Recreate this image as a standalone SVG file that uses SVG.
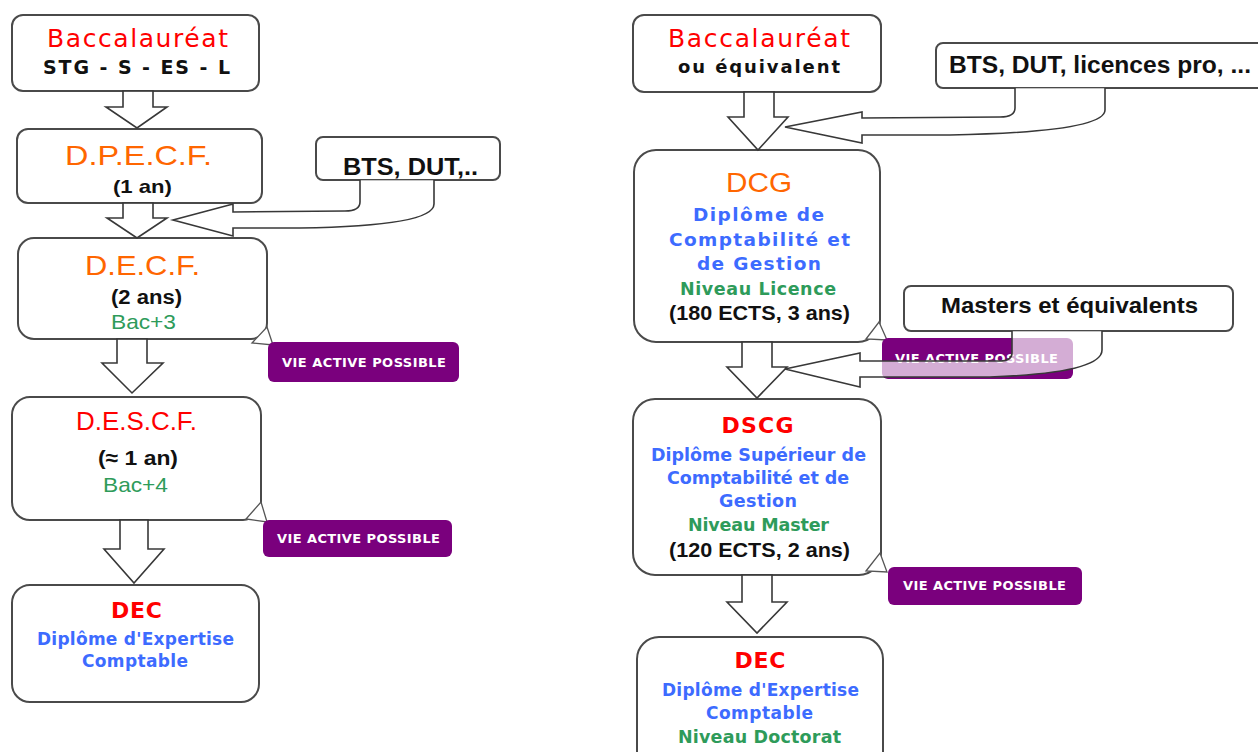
<svg xmlns="http://www.w3.org/2000/svg" width="1258" height="752" viewBox="0 0 1258 752">
<style>
.box{fill:#fff;stroke:#4a4a4a;stroke-width:2}
.arr{fill:#fff;fill-opacity:.68;stroke:#383838;stroke-width:1.6;stroke-linejoin:miter}
.tag{fill:#7a007d}
.ptr{fill:#fff;stroke:#555;stroke-width:1.3}
text{text-anchor:middle}
.v{font-family:"DejaVu Sans",Verdana,sans-serif}
.a{font-family:"Liberation Sans",Arial,sans-serif}
.b{font-weight:bold}
.red{fill:#ff0000}.org{fill:#ff6600}.blu{fill:#3d6bff}.grn{fill:#2e9b5a}.blk{fill:#111}.wht{fill:#fff}
.t{font-size:13px;font-weight:bold;font-family:"DejaVu Sans",Verdana,sans-serif;fill:#fff}
</style>
<rect width="1258" height="752" fill="#fff"/>

<!-- Left column -->
<g id="bac-left">
<rect class="box" x="12" y="15" width="247" height="76" rx="11"/>
<text class="v red" x="137.5" y="47" font-size="25" textLength="181">Baccalauréat</text>
<text class="v b blk" x="136.5" y="74" font-size="19" textLength="187">STG - S - ES - L</text>
</g>
<g id="dpecf">
<rect class="box" x="17" y="129" width="245" height="74" rx="11"/>
<text class="a org" x="138.5" y="165" font-size="28" textLength="147" lengthAdjust="spacingAndGlyphs">D.P.E.C.F.</text>
<text class="a b blk" x="142.5" y="193" font-size="19" textLength="59" lengthAdjust="spacingAndGlyphs">(1 an)</text>
</g>
<g id="bts-left">
<rect class="box" x="316" y="137" width="184" height="43" rx="7"/>
<text class="a b blk" x="410.5" y="175" font-size="24" textLength="135" lengthAdjust="spacingAndGlyphs">BTS, DUT,..</text>
</g>
<g id="decf">
<rect class="box" x="18" y="238" width="249" height="101" rx="16"/>
<text class="a org" x="142.5" y="275" font-size="28" textLength="115" lengthAdjust="spacingAndGlyphs">D.E.C.F.</text>
<text class="a b blk" x="146.5" y="304" font-size="20" textLength="71" lengthAdjust="spacingAndGlyphs">(2 ans)</text>
<text class="a grn" x="143.5" y="329" font-size="21" textLength="65" lengthAdjust="spacingAndGlyphs">Bac+3</text>
</g>
<g id="vie1">
<polygon class="ptr" points="267,327 273,345 252,343"/>
<rect class="tag" x="268" y="342" width="191" height="40" rx="6"/>
<text class="t" x="364" y="367" textLength="164">VIE ACTIVE POSSIBLE</text>
</g>
<g id="descf">
<rect class="box" x="12" y="397" width="249" height="123" rx="18"/>
<text class="a red" x="136.5" y="430" font-size="25" textLength="121" lengthAdjust="spacingAndGlyphs">D.E.S.C.F.</text>
<text class="a b blk" x="138" y="465" font-size="21" textLength="80" lengthAdjust="spacingAndGlyphs">(≈ 1 an)</text>
<text class="a grn" x="135.5" y="492" font-size="21" textLength="65" lengthAdjust="spacingAndGlyphs">Bac+4</text>
</g>
<g id="vie2">
<polygon class="ptr" points="261,502 267,522 246,519"/>
<rect class="tag" x="263" y="520" width="189" height="37" rx="6"/>
<text class="t" x="358.5" y="543" textLength="163">VIE ACTIVE POSSIBLE</text>
</g>
<g id="dec-left">
<rect class="box" x="12" y="585" width="247" height="117" rx="18"/>
<text class="v b red" x="136.5" y="618" font-size="22" textLength="51">DEC</text>
<text class="v b blu" x="135.5" y="645" font-size="17" textLength="197">Diplôme d'Expertise</text>
<text class="v b blu" x="135" y="667" font-size="17" textLength="106">Comptable</text>
</g>

<!-- Right column -->
<g id="bac-right">
<rect class="box" x="633" y="15" width="248" height="77" rx="11"/>
<text class="v red" x="759" y="47" font-size="25" textLength="182">Baccalauréat</text>
<text class="v b blk" x="759" y="73" font-size="18" textLength="162">ou équivalent</text>
</g>
<g id="bts-right">
<rect class="box" x="936" y="43" width="340" height="45" rx="7"/>
<text class="a b blk" x="1100" y="73" font-size="24" textLength="302" lengthAdjust="spacingAndGlyphs">BTS, DUT, licences pro, ...</text>
</g>
<g id="dcg">
<rect class="box" x="634" y="150" width="246" height="192" rx="22"/>
<text class="a org" x="759" y="192" font-size="27" textLength="66" lengthAdjust="spacingAndGlyphs">DCG</text>
<text class="v b blu" x="758.5" y="221" font-size="18.5" textLength="131">Diplôme de</text>
<text class="v b blu" x="759.5" y="246" font-size="18.5" textLength="181">Comptabilité et</text>
<text class="v b blu" x="759" y="270" font-size="18.5" textLength="124">de Gestion</text>
<text class="v b grn" x="758" y="295" font-size="17.5" textLength="156">Niveau Licence</text>
<text class="a b blk" x="759.5" y="320" font-size="21" textLength="181" lengthAdjust="spacingAndGlyphs">(180 ECTS, 3 ans)</text>
</g>
<g id="vie3">
<polygon class="ptr" points="879,322 887,340 866,339"/>
<rect class="tag" x="882" y="338" width="191" height="41" rx="6"/>
<text class="t" x="976.5" y="363" textLength="163">VIE ACTIVE POSSIBLE</text>
</g>
<g id="masters">
<rect class="box" x="904" y="286" width="329" height="45" rx="7"/>
<text class="a b blk" x="1069.5" y="313" font-size="22" textLength="257" lengthAdjust="spacingAndGlyphs">Masters et équivalents</text>
</g>
<g id="dscg">
<rect class="box" x="633" y="399" width="248" height="176" rx="22"/>
<text class="v b red" x="757.5" y="433" font-size="22" textLength="72">DSCG</text>
<text class="v b blu" x="758.5" y="461" font-size="17.5" textLength="215">Diplôme Supérieur de</text>
<text class="v b blu" x="758" y="484" font-size="17.5" textLength="182">Comptabilité et de</text>
<text class="v b blu" x="758" y="507" font-size="17.5" textLength="78">Gestion</text>
<text class="v b grn" x="758.5" y="531" font-size="17.5" textLength="141">Niveau Master</text>
<text class="a b blk" x="759.5" y="557" font-size="21" textLength="181" lengthAdjust="spacingAndGlyphs">(120 ECTS, 2 ans)</text>
</g>
<g id="vie4">
<polygon class="ptr" points="880,553 887,572 866,571"/>
<rect class="tag" x="888" y="567" width="194" height="38" rx="6"/>
<text class="t" x="984.5" y="590" textLength="163">VIE ACTIVE POSSIBLE</text>
</g>
<g id="dec-right">
<rect class="box" x="637" y="637" width="246" height="140" rx="22"/>
<text class="v b red" x="760" y="668" font-size="22" textLength="51">DEC</text>
<text class="v b blu" x="760.5" y="696" font-size="17" textLength="197">Diplôme d'Expertise</text>
<text class="v b blu" x="759.5" y="719" font-size="17" textLength="107">Comptable</text>
<text class="v b grn" x="759.5" y="743" font-size="17.5" textLength="163">Niveau Doctorat</text>
</g>

<g id="connectors">
<path class="arr" d="M123,91 L123,107 L106,107 L137,128 L167,107 L153,107 L153,91 Z"/>
<path class="arr" d="M123,203 L123,218 L107,218 L137,238 L167,218 L153,218 L153,203 Z"/>
<path class="arr" d="M117,339 L117,363 L102,363 L132,393 L163,363 L147,363 L147,339 Z"/>
<path class="arr" d="M120,520 L120,549 L104,549 L134,583 L164,549 L148,549 L148,520 Z"/>
<path class="arr" d="M744,92 L744,117 L728,117 L758,150 L788,117 L774,117 L774,92 Z"/>
<path class="arr" d="M742,342 L742,367 L727,367 L757,398 L787,367 L772,367 L772,342 Z"/>
<path class="arr" d="M742,575 L742,602 L727,602 L757,633 L787,602 L772,602 L772,575 Z"/>
<path class="arr" d="M360,180 L360,202 Q360,211 345,211 L233,212 L233,204 L173,220 L233,236 L233,228 L300,228 Q434,226 434,204 L434,180"/>
<path class="arr" d="M1015,88 L1015,108 Q1015,117 1000,117 L862,118 L862,112 L785,127 L862,143 L862,135 L950,135 Q1105,132 1105,110 L1105,88"/>
<path class="arr" d="M1012,331 L1012,353 Q1012,361 1000,361 L860,361 L860,353 L785,369 L860,387 L860,377 L990,377 Q1102,373 1102,350 L1102,331"/>
</g>
</svg>
